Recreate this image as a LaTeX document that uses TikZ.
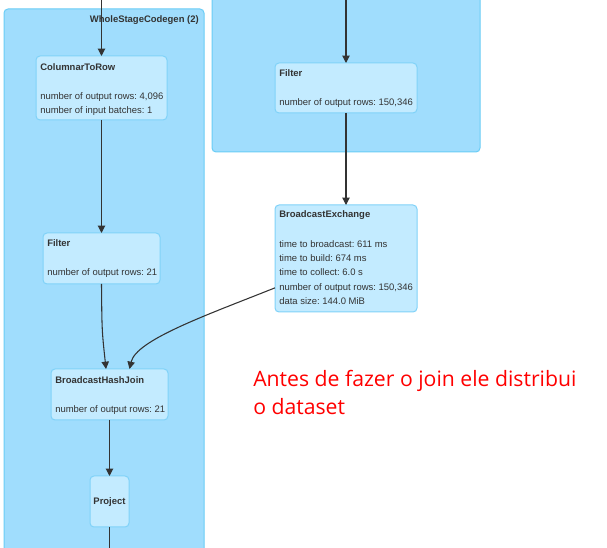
\documentclass[tikz,border=0pt]{standalone}
\usepackage{fontspec}
\setmainfont{Liberation Sans}
\newfontfamily\notefont{Open Sans}
\usetikzlibrary{arrows.meta}
\frenchspacing
\definecolor{clfill}{HTML}{A0DDFD}
\definecolor{cldraw}{HTML}{6ACDF6}
\definecolor{opfill}{HTML}{C3EBFF}
\definecolor{opdraw}{HTML}{80D2F8}
\definecolor{txt}{HTML}{333333}
\definecolor{notered}{HTML}{FF0000}
\tikzset{
  cluster/.style={draw=cldraw, fill=clfill, line width=0.75pt, rounded corners=3pt},
  opbox/.style={draw=opdraw, fill=opfill, line width=0.75pt, rounded corners=3pt, inner sep=0pt, outer sep=0pt, anchor=north west},
  title/.style={font=\fontsize{7.1}{10.6}\selectfont\bfseries, text=txt, inner sep=0pt, anchor=west},
  metric/.style={font=\fontsize{7.1}{10.6}\selectfont, text=txt, inner sep=0pt, anchor=north west, align=left},
  edge/.style={draw=txt, line width=0.8pt, -{Triangle[length=5.5pt,width=5.5pt]}},
  plain/.style={draw=txt, line width=0.8pt}
}
\begin{document}
\frenchspacing
\begin{tikzpicture}[x=0.75pt,y=-0.75pt]
\useasboundingbox (0,0) rectangle (607,548);
\clip (0,0) rectangle (607,548);
\fill[white] (0,0) rectangle (607,548);
% clusters
\draw[cluster] (4,9) rectangle (204,570);
\node[font=\fontsize{7.1}{9}\selectfont\bfseries, text=txt, anchor=east, inner sep=0pt] (wsc) at (199,20.5) {WholeStageCodegen (2)};
\draw[cluster] (212,-20) rectangle (480,152);
% nodes left
\node[opbox, minimum width=98.25pt, minimum height=48pt] (ctr) at (36,56) {};
\node[title] (ctrT) at (40,67.5) {ColumnarToRow};
\node[metric] (ctrM) at (40,92.5) {number of output rows: 4,096\\number of input batches: 1};
\node[opbox, minimum width=87.75pt, minimum height=38.25pt] (fl) at (43,233) {};
\node[title] (flT) at (47,243.5) {Filter};
\node[metric] (flM) at (47,268.5) {number of output rows: 21};
\node[opbox, minimum width=87.75pt, minimum height=38.25pt] (bhj) at (51,369) {};
\node[title] (bhjT) at (55,380.5) {BroadcastHashJoin};
\node[metric] (bhjM) at (55,405.5) {number of output rows: 21};
\node[opbox, minimum width=29.25pt, minimum height=38.25pt] (proj) at (90,476) {};
\node[title, anchor=center] (projT) at ([yshift=-0.5pt]proj.center) {Project};
% nodes right
\node[opbox, minimum width=106.5pt, minimum height=37.5pt] (fr) at (275,63) {};
\node[title] (frT) at (279,73.5) {Filter};
\node[metric] (frM) at (279,98.5) {number of output rows: 150,346};
\node[opbox, minimum width=106.5pt, minimum height=80.25pt] (bx) at (275,205) {};
\node[title] (bxT) at (279,215.5) {BroadcastExchange};
\node[metric] (bxM) at (279,240.5) {time to broadcast: 611 ms\\time to build: 674 ms\\time to collect: 6.0 s\\number of output rows: 150,346\\data size: 144.0 MiB};
% free ends
\coordinate (topL) at (101.5,-2);
\coordinate (topR) at (346,-2);
\coordinate (botL) at (109.5,552);
% edges
\draw[edge] (topL) -- (ctr.north);
\draw[edge] (ctr.south) -- (fl.north);
\draw[edge] (fl.south) .. controls ([xshift=0.3pt,yshift=-35pt]fl.south) .. ([xshift=-2.6pt]bhj.north);
\draw[edge] ([yshift=-22pt]bx.west) .. controls ([xshift=-50pt,yshift=-42pt]bx.west) and ([xshift=20pt,yshift=22pt]bhj.north) .. ([xshift=15pt]bhj.north);
\draw[edge] (bhj.south) -- (proj.north);
\draw[plain] (proj.south) -- (botL);
\draw[edge] (topR) -- (fr.north);
\draw[edge] (fr.south) -- (bx.north);
% note
\node[font=\notefont\fontsize{15.9}{21.2}\selectfont, text=notered, anchor=base west, inner sep=0pt, align=left] (note) at (253,414.8) {Antes de fazer o join ele distribui\\o dataset};
\end{tikzpicture}
\end{document}
